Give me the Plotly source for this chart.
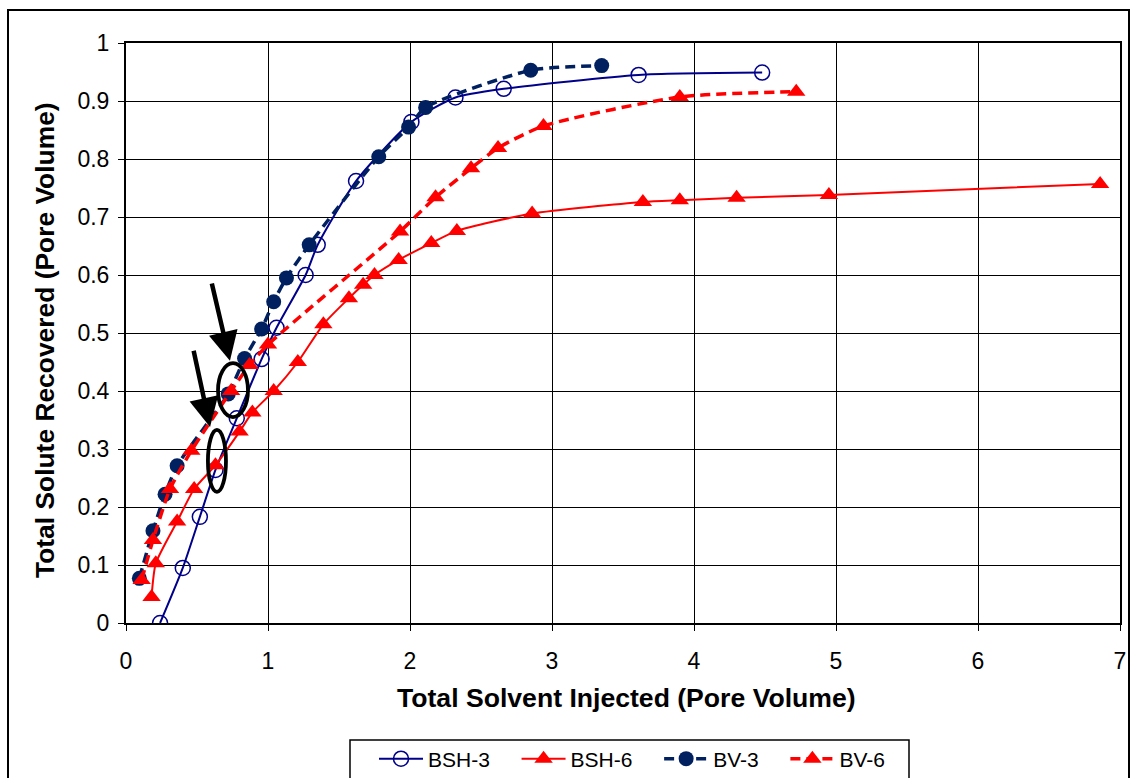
import plotly.graph_objects as go

# Total solvent injected (PV) vs total solute recovered (PV)
bsh3_x = [0.24, 0.40, 0.52, 0.63, 0.78, 0.955, 1.06, 1.265, 1.35, 1.62, 2.01, 2.32, 2.66, 3.61, 4.48]
bsh3_y = [0.0, 0.095, 0.183, 0.264, 0.353, 0.455, 0.509, 0.60, 0.652, 0.762, 0.864, 0.906, 0.921, 0.945, 0.949]

bsh6_x = [0.18, 0.21, 0.36, 0.48, 0.63, 0.80, 0.89, 1.04, 1.21, 1.39, 1.57, 1.67, 1.75, 1.92, 2.15, 2.33, 2.86, 3.64, 3.90, 4.30, 4.95, 6.86]
bsh6_y = [0.045, 0.103, 0.175, 0.231, 0.272, 0.330, 0.363, 0.400, 0.450, 0.515, 0.560, 0.583, 0.600, 0.626, 0.655, 0.676, 0.706, 0.726, 0.729, 0.733, 0.738, 0.757]

bv3_x = [0.094, 0.19, 0.275, 0.36, 0.72, 0.835, 0.955, 1.04, 1.13, 1.29, 1.78, 1.99, 2.11, 2.85, 3.35]
bv3_y = [0.077, 0.159, 0.222, 0.271, 0.395, 0.456, 0.507, 0.554, 0.595, 0.652, 0.804, 0.855, 0.889, 0.953, 0.961]

bv6_x = [0.11, 0.19, 0.31, 0.46, 0.74, 0.87, 1.0, 1.93, 2.18, 2.43, 2.62, 2.94, 3.90, 4.72]
bv6_y = [0.074, 0.143, 0.231, 0.297, 0.400, 0.445, 0.48, 0.675, 0.734, 0.784, 0.819, 0.857, 0.907, 0.916]

x_ticks = [0, 1, 2, 3, 4, 5, 6, 7]

NAVY = "#00008B"
DARK_NAVY = "#002060"
RED = "#FF0000"
FONT = "Liberation Sans, Arial, sans-serif"
PAD = "\u00a0\u00a0\u00a0\u2009"  # extra room after each legend label

# plot area in pixels: left 126, right 1120, top 43, bottom 623
PX_L, PX_R, PX_T, PX_B = 126, 1120, 43, 623
W, H = PX_R - PX_L, PX_B - PX_T


def px_x(p):
    return (p - PX_L) / W


def px_y(p):
    return (PX_B - p) / H


fig = go.Figure()

fig.add_trace(go.Scatter(
    x=bsh3_x, y=bsh3_y, name="BSH-3" + PAD, mode="lines+markers",
    line=dict(color=NAVY, width=2, shape="spline", smoothing=0.6),
    marker=dict(symbol="circle-open", size=15, color=NAVY, line=dict(width=1.5, color=NAVY)),
))
fig.add_trace(go.Scatter(
    x=bsh6_x, y=bsh6_y, name="BSH-6" + PAD, mode="lines+markers",
    line=dict(color=RED, width=2, shape="spline", smoothing=0.6),
    marker=dict(symbol="triangle-up", size=16, color=RED),
))
fig.add_trace(go.Scatter(
    x=bv3_x, y=bv3_y, name="BV-3" + PAD, mode="lines+markers",
    line=dict(color=DARK_NAVY, width=3.5, dash="10px,6px", shape="spline", smoothing=0.6),
    marker=dict(symbol="circle", size=15, color=DARK_NAVY),
))
fig.add_trace(go.Scatter(
    x=bv6_x, y=bv6_y, name="BV-6", mode="lines+markers",
    line=dict(color=RED, width=3.5, dash="10px,6px", shape="spline", smoothing=0.6),
    marker=dict(symbol="triangle-up", size=16, color=RED),
))

# Highlight ellipses around the crossing points
ellipses = [
    dict(x0=0.648, x1=0.859, y0=0.355, y1=0.448),
    dict(x0=0.577, x1=0.704, y0=0.226, y1=0.333),
]
shapes = []
for e in ellipses:
    shapes.append(dict(type="circle", xref="x", yref="y", line=dict(color="black", width=3.8),
                       fillcolor="rgba(0,0,0,0)", **e))

# Outer frame around the whole chart
shapes.append(dict(type="rect", xref="paper", yref="paper",
                   x0=px_x(8), x1=px_x(1129), y0=px_y(800), y1=px_y(10),
                   line=dict(color="black", width=2), layer="below"))
# Legend frame
shapes.append(dict(type="rect", xref="paper", yref="paper",
                   x0=px_x(350), x1=px_x(909), y0=px_y(790), y1=px_y(740),
                   line=dict(color="black", width=1.5), layer="below"))

annotations = [
    dict(x=0.732, y=0.452, ax=0.602, ay=0.588, xref="x", yref="y", axref="x", ayref="y",
         showarrow=True, arrowhead=2, arrowsize=1.3, arrowwidth=4.5, arrowcolor="black", text=""),
    dict(x=0.592, y=0.338, ax=0.474, ay=0.472, xref="x", yref="y", axref="x", ayref="y",
         showarrow=True, arrowhead=2, arrowsize=1.3, arrowwidth=4.5, arrowcolor="black", text=""),
    dict(text="<b>Total Solvent Injected (Pore Volume)</b>", xref="paper", yref="paper",
         x=px_x(626), y=px_y(698), xanchor="center", yanchor="middle", showarrow=False,
         font=dict(family=FONT, size=26.6, color="black")),
    dict(text="<b>Total Solute Recovered (Pore Volume)</b>", xref="paper", yref="paper",
         x=px_x(45), y=px_y(340), xanchor="center", yanchor="middle", showarrow=False,
         textangle=-90, font=dict(family=FONT, size=26.4, color="black")),
]

fig.update_layout(
    width=1131, height=778,
    margin=dict(l=PX_L, r=1131 - PX_R, t=PX_T, b=778 - PX_B, autoexpand=False),
    paper_bgcolor="white", plot_bgcolor="white",
    font=dict(family=FONT, size=23, color="black"),
    shapes=shapes,
    annotations=annotations,
    showlegend=True,
    legend=dict(orientation="h", x=px_x(374), xanchor="left",
                y=px_y(759), yanchor="middle",
                borderwidth=0, bgcolor="rgba(0,0,0,0)",
                font=dict(family=FONT, size=21), itemwidth=44, tracegroupgap=0),
)

fig.update_xaxes(
    range=[0, 7], tickvals=x_ticks, ticktext=[str(v) for v in x_ticks],
    showgrid=True, gridcolor="black", gridwidth=1.3,
    showline=True, linecolor="black", linewidth=1.5, mirror=True,
    ticks="outside", ticklen=6, tickcolor="black", tickwidth=1.3,
    ticklabelstandoff=11, tickfont=dict(family=FONT, size=23),
    zeroline=False, fixedrange=True, automargin=False,
)
fig.update_yaxes(
    range=[0, 1], dtick=0.1, tick0=0,
    showgrid=True, gridcolor="black", gridwidth=1.3,
    showline=True, linecolor="black", linewidth=2, mirror=True,
    ticks="outside", ticklen=6, tickcolor="black", tickwidth=1.3,
    ticklabelstandoff=4, tickfont=dict(family=FONT, size=23),
    zeroline=False, fixedrange=True, automargin=False,
)

fig.write_html("out.html")
